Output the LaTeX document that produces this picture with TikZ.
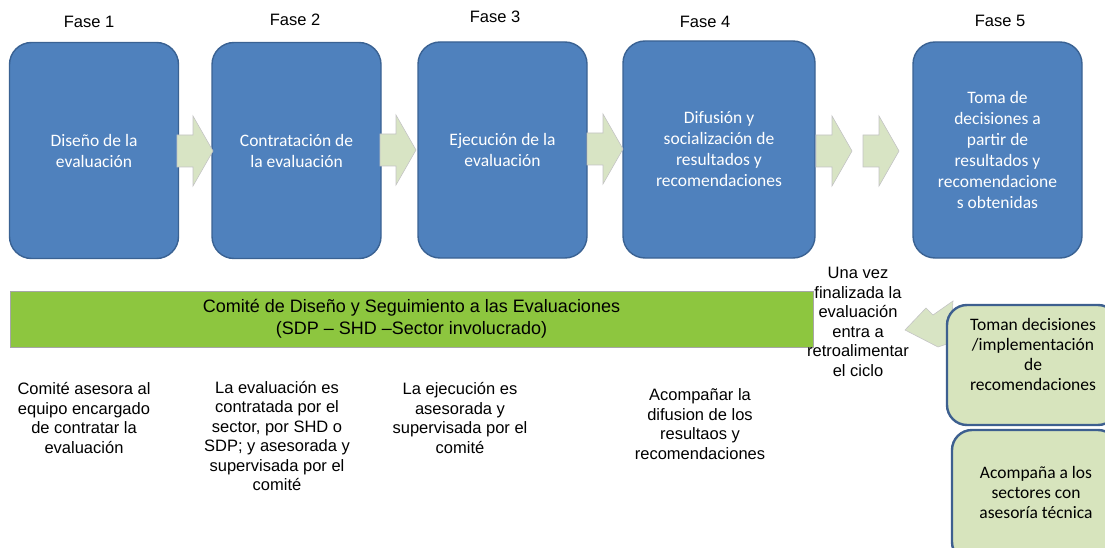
\documentclass[tikz,border=0pt]{standalone}
\usepackage{fontspec}
\setmainfont{Liberation Sans}
\newfontfamily\boxfont{Carlito}
\definecolor{phaseblue}{HTML}{4F81BD}
\definecolor{phaseborder}{HTML}{3A6293}
\definecolor{flowgreen}{HTML}{D8E4C4}
\definecolor{flowedge}{HTML}{C4C4C4}
\definecolor{bandgreen}{HTML}{8DC63F}
\definecolor{supportgreen}{HTML}{D7E4BD}
\definecolor{supportborder}{HTML}{3D5F8F}

\begin{document}
\begin{tikzpicture}[x=1pt, y=-1pt,
        flow/.pic={\draw[fill=flowgreen, draw=flowedge, line width=0.6pt]
          (-18,-16) -- (-2,-16) -- (-2,-35) -- (18,0) -- (-2,35) -- (-2,16) -- (-18,16) -- cycle;}]
      \tikzstyle{phase} = [draw=phaseborder, line width=1.4pt, fill=phaseblue, rounded corners=22pt,
        minimum width=169pt, minimum height=216pt, text=white, align=center,
        font=\boxfont\fontsize{17.5}{21}\selectfont]
      \tikzstyle{title} = [font=\fontsize{16.5}{19}\selectfont]
      \tikzstyle{note} = [align=center, font=\fontsize{16.5}{19.5}\selectfont]
      \tikzstyle{support} = [draw=supportborder, line width=2.4pt, fill=supportgreen, rounded corners=20pt]
      \tikzstyle{supporttext} = [align=center, font=\boxfont\fontsize{17.5}{20}\selectfont]
      \useasboundingbox (0,0) rectangle (1105,548);
      % phases
      \node (design) [phase] at (94,150.5) {Diseño de la\\evaluación};
      \node (contract) [phase] at (296.5,150.5) {Contratación de\\la evaluación};
      \node (execute) [phase] at (502.5,150) {Ejecución de la\\evaluación};
      \node (spread) [phase, minimum width=192pt, minimum height=217pt] at (719,149.5)
        {Difusión y\\socialización de\\resultados y\\recomendaciones};
      \node (decide) [phase] at (997.5,150) {Toma de\\decisiones a\\partir de\\resultados y\\recomendacione\\s obtenidas};
      \node [title] at (89,22) {Fase 1};
      \node [title] at (295,20) {Fase 2};
      \node [title] at (495,17) {Fase 3};
      \node [title] at (705,22) {Fase 4};
      \node [title] at (1000,21) {Fase 5};
      % arrows between phases
      \pic at (195,151) {flow};
      \pic at (398,150) {flow};
      \pic at (605,149) {flow};
      \pic at (834,151) {flow};
      \pic at (881,151) {flow};
      % committee
      \node (committee) [draw=black!35, line width=0.6pt, fill=bandgreen, minimum width=803pt,
        minimum height=56pt, align=center, font=\fontsize{18}{22}\selectfont] at (411.5,319)
        {Comité de Diseño y Seguimiento a las Evaluaciones\\(SDP – SHD –Sector involucrado)};
      \node (adv1) [note] at (84,418) {Comité asesora al\\equipo encargado\\de contratar la\\evaluación};
      \node (adv2) [note] at (277,436) {La evaluación es\\contratada por el\\sector, por SHD o\\SDP; y asesorada y\\supervisada por el\\comité};
      \node (adv3) [note] at (460,418) {La ejecución es\\asesorada y\\supervisada por el\\comité};
      \node (adv4) [note] at (700,424) {Acompañar la\\difusion de los\\resultaos y\\recomendaciones};
      % feedback
      \draw[fill=flowgreen, draw=flowedge, line width=0.6pt]
        (905,330) -- (926,308) -- (933,315) -- (953,301) -- (950,343) -- (938,347) -- cycle;
      \node (loop) [note] at (858,322) {Una vez\\finalizada la\\evaluación\\entra a\\retroalimentar\\el ciclo};
      \draw[support] (947,305) rectangle (1118,425);
      \draw[support] (952,430) rectangle (1118,562);
      \node (apply) [supporttext] at (1033,354) {Toman decisiones\\/implementación\\de\\recomendaciones};
      \node (assist) [supporttext] at (1036,492) {Acompaña a los\\sectores con\\asesoría técnica};
    \end{tikzpicture}
\end{document}
